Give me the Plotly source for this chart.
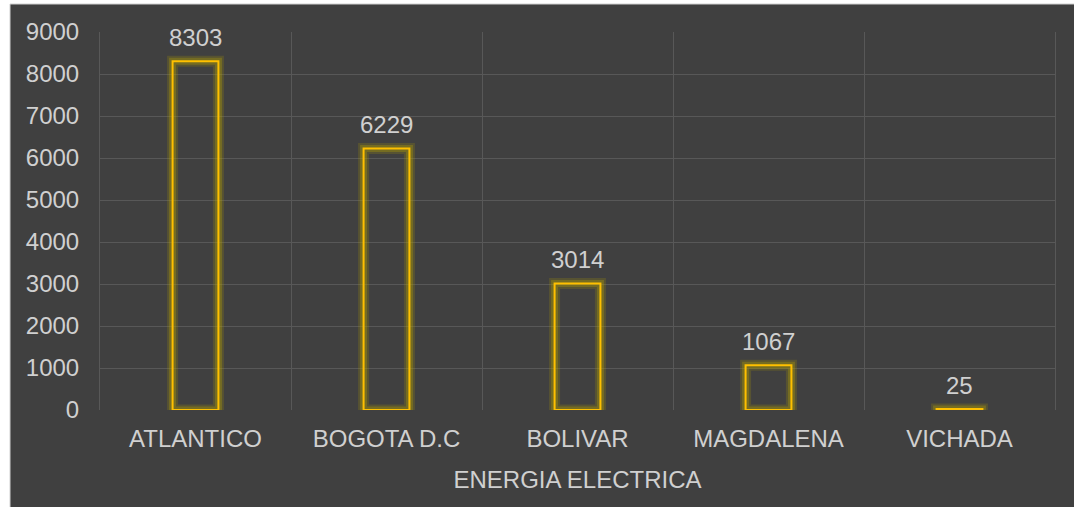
import plotly.graph_objects as go

categories = ["ATLANTICO", "BOGOTA D.C", "BOLIVAR", "MAGDALENA", "VICHADA"]
values = [8303, 6229, 3014, 1067, 25]
y_ticks = [0, 1000, 2000, 3000, 4000, 5000, 6000, 7000, 8000, 9000]
x_title = "ENERGIA ELECTRICA"

W, H = 1074, 507
L, R, T, B = 100, 19, 32, 97
pw, ph = W - L - R, H - T - B
FONT = "Liberation Sans, Arial"
TXT = "#D0D0D0"
FS = 24

fig = go.Figure()

# glow layers
for col, wd in [("rgba(170,150,0,0.22)", 11), ("rgba(190,165,0,0.30)", 7)]:
    fig.add_trace(go.Bar(
        x=categories, y=values, width=0.24,
        marker=dict(color="rgba(0,0,0,0)", line=dict(color=col, width=wd)),
        hoverinfo="skip", showlegend=False,
    ))
# main outline
fig.add_trace(go.Bar(
    x=categories, y=values, width=0.24,
    marker=dict(color="rgba(0,0,0,0)", line=dict(color="#FFC000", width=2)),
    showlegend=False,
))

for c, v in zip(categories, values):
    fig.add_annotation(x=c, y=v, text=str(v), showarrow=False, yanchor="bottom",
                       yshift=8, font=dict(family=FONT, size=FS, color=TXT))

# dark chart background
fig.add_shape(type="rect", xref="paper", yref="paper",
              x0=(10 - L) / pw, x1=(W - L) / pw + 0.01,
              y0=-(B + 10) / ph, y1=(H - 4 - B) / ph,
              fillcolor="#404040", line=dict(color="#D0D0D0", width=1), layer="below")

fig.update_layout(
    width=W, height=H,
    margin=dict(l=L, r=R, t=T, b=B),
    paper_bgcolor="white", plot_bgcolor="rgba(0,0,0,0)",
    barmode="overlay",
    font=dict(family=FONT, size=FS, color=TXT),
)
fig.update_xaxes(
    type="category", range=[-0.5, 4.5], tickson="boundaries",
    showgrid=True, gridcolor="#585858", gridwidth=1,
    showline=False, zeroline=False,
    ticks="outside", ticklen=4, tickcolor="rgba(0,0,0,0)",
    ticklabelstandoff=12,
    tickfont=dict(size=FS, color=TXT),
    title=dict(text=x_title, font=dict(size=FS, color=TXT), standoff=20),
)
fig.update_yaxes(
    range=[0, 9000], tickvals=y_ticks, ticktext=[str(t) for t in y_ticks],
    showgrid=True, gridcolor="#585858", gridwidth=1,
    zeroline=False, showline=True, mirror=True, linecolor="#585858", linewidth=1,
    ticks="outside", ticklen=15, tickcolor="rgba(0,0,0,0)",
    tickfont=dict(size=FS, color=TXT),
)

fig.write_html("out.html")
